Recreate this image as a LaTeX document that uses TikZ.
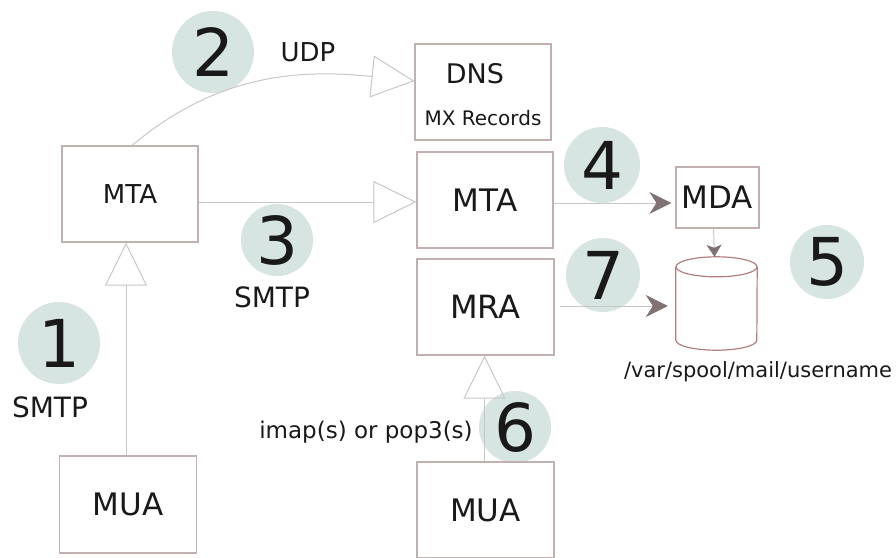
\documentclass[tikz,border=0pt]{standalone}
\usepackage{fontspec}
\setmainfont{DejaVu Sans}
\usetikzlibrary{positioning, calc, arrows.meta, backgrounds}

\definecolor{boxline}{RGB}{192,176,176}
\definecolor{wire}{RGB}{200,198,198}
\definecolor{tipfill}{RGB}{128,114,114}
\definecolor{stepfill}{RGB}{214,228,226}
\definecolor{spoolline}{RGB}{178,126,126}
\definecolor{ink}{RGB}{25,25,25}
\newcommand{\setfs}[1]{\fontsize{#1}{#1}\selectfont}

\begin{document}
\begin{tikzpicture}[
    x=1pt, y=-1pt,
    box/.style={draw=boxline, line width=1.2pt, minimum width=136, minimum height=96, inner sep=0, text=ink},
    txt/.style={text=ink, inner sep=0},
    stepdot/.style={circle, fill=stepfill, inner sep=0, text=ink, font=\setfs{66}},
    openarrow/.style={draw=wire, line width=1pt, -{Triangle[open, length=43pt, width=42pt]}},
    fullarrow/.style={draw=wire, line width=1pt, -{Stealth[length=22pt, width=22pt, inset=7pt, color=tipfill, fill=tipfill]}}
]
\useasboundingbox (0,0) rectangle (896,557);

% ----------------- numbered steps -----------------
\node[stepdot, minimum size=82] (s1) at (59, 343)  {1};
\node[stepdot, minimum size=82] (s2) at (213, 52)  {2};
\node[stepdot, minimum size=72] (s3) at (277, 240) {3};
\node[stepdot, minimum size=76] (s4) at (602, 165) {4};
\node[stepdot, minimum size=74] (s5) at (827, 262) {5};
\node[stepdot, minimum size=72] (s6) at (515, 427) {6};
\node[stepdot, minimum size=74] (s7) at (603, 275) {7};

% ----------------- agents -----------------
\node[box, font=\setfs{26}] (mta1) at (130, 194) {MTA};
\node[box, font=\setfs{31}, minimum width=137, minimum height=97] (mua1) at (128, 504.5) {MUA};

\node[box] (dns) at (483, 92) {};
\node[txt, font=\setfs{27}] (dnsname) at (475, 74) {DNS};
\node[txt, font=\setfs{20}] (mxrec) at (483, 118) {MX Records};

\node[box, font=\setfs{31}] (mta2) at (485, 200) {MTA};
\node[box, font=\setfs{32}, minimum width=137] (mra) at (485.5, 307) {MRA};
\node[box, font=\setfs{31}, minimum width=137] (mua2) at (485.5, 510) {MUA};

\node[box, font=\setfs{31}, minimum width=83, minimum height=61] (mda) at (717.5, 197.5) {MDA};

% mail spool: cylinder drawn round an empty node
\node[minimum width=81, minimum height=93, inner sep=0] (spool) at (716.5, 303.5) {};
\draw[spoolline, line width=1.2pt]
    ([yshift=-10]spool.north west) -- ([yshift=10]spool.south west)
    arc[start angle=180, end angle=0, x radius=40.5, y radius=10]
    -- ([yshift=-10]spool.north east);
\draw[spoolline, line width=1.2pt] ([yshift=-10]spool.north) ellipse[x radius=40.5, y radius=10];

% ----------------- labels -----------------
\node[txt, font=\setfs{26}] (udp) at (308, 52) {UDP};
\node[txt, font=\setfs{28}] (smtp1) at (50, 407) {SMTP};
\node[txt, font=\setfs{28}] (smtp3) at (272, 297) {SMTP};
\node[txt, font=\setfs{23}] (imap) at (366, 432) {imap(s) or pop3(s)};
\node[txt, font=\setfs{21}] (path) at (758, 372) {/var/spool/mail/username};

% ----------------- connectors -----------------
\draw[openarrow] ([xshift=-2]mua1.north) -- ([xshift=-4]mta1.south);
\draw[openarrow] ([xshift=2]mta1.north) to[out=40, in=174] ([yshift=11]dns.west);
\draw[openarrow] ([yshift=-8]mta1.east) -- ([yshift=-2]mta2.west);
\draw[openarrow] ([xshift=-1]mua2.north) -- ([xshift=-1]mra.south);

\draw[fullarrow, shorten >=4pt] ([yshift=-3]mta2.east) -- ([yshift=-3]mta2.east -| mda.west);
\draw[fullarrow, shorten <=5pt, shorten >=8pt] ([yshift=1]mra.east) -- ([yshift=1]mra.east -| spool.west);
\draw[draw=wire, line width=1pt, -{Stealth[length=12pt, width=15pt, inset=3pt, color=tipfill, fill=tipfill]}]
    ([xshift=-4]mda.south) -- ([xshift=-2]spool.north);

\end{tikzpicture}
\end{document}
